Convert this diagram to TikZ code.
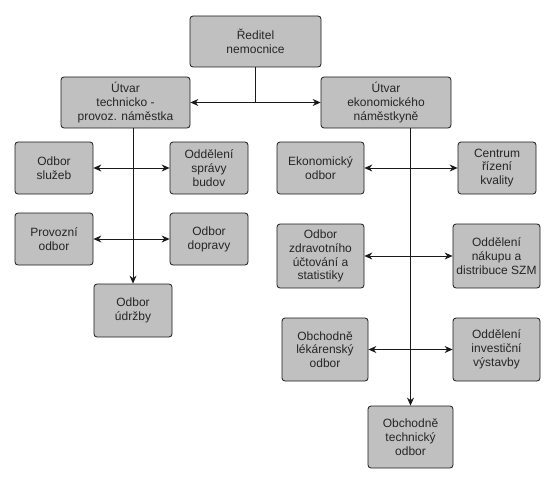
\documentclass[tikz,border=0pt]{standalone}
\usepackage{fontspec}
\setmainfont{Liberation Sans}
\usepackage{tikz}
\usetikzlibrary{arrows.meta}
\definecolor{boxc}{HTML}{C0C0C0}
\definecolor{linec}{HTML}{1A1A1A}
\tikzset{
  unitnode/.style={rectangle, rounded corners=3pt, draw=linec, fill=boxc,
    line width=0.8pt, minimum width=78pt, minimum height=52pt, inner sep=1pt,
    font=\fontsize{12}{13.8}\selectfont, align=center, text=black!85},
  linkedge/.style={draw=linec, line width=0.8pt},
  downedge/.style={-{Stealth[length=8pt,width=7pt]}, draw=linec, line width=0.8pt},
  bothedge/.style={{Stealth[length=8pt,width=7pt]}-{Stealth[length=8pt,width=7pt]}, draw=linec, line width=0.8pt},
}
\begin{document}
\begin{tikzpicture}[x=1pt, y=-1pt]
  \useasboundingbox (0,0) rectangle (556,484);
  % vedeni
  \node[unitnode, minimum width=131pt, minimum height=51pt] (dir) at (255.5,41.5) {Ředitel\\nemocnice};
  \node[unitnode, minimum width=129pt, minimum height=51pt] (tech) at (125.5,102.5) {Útvar\\technicko -\\provoz. náměstka};
  \node[unitnode, minimum width=130pt, minimum height=51pt] (ekon) at (386,102.5) {Útvar\\ekonomického\\náměstkyně};
  % technicko-provozni usek
  \node[unitnode] (sluz) at (54,168) {Odbor\\služeb};
  \node[unitnode] (sprav) at (209,168) {Oddělení\\správy\\budov};
  \node[unitnode] (provoz) at (54,239) {Provozní\\odbor};
  \node[unitnode] (doprav) at (209,239) {Odbor\\dopravy};
  \node[unitnode, minimum height=53pt] (udrz) at (133,310.5) {Odbor\\údržby};
  % ekonomicky usek
  \node[unitnode, minimum width=87pt] (ekodb) at (320.5,168) {Ekonomický\\odbor};
  \node[unitnode] (kval) at (497,168) {Centrum\\řízení\\kvality};
  \node[unitnode, minimum width=87pt, minimum height=64pt] (zdrav) at (320.5,256) {Odbor\\zdravotního\\účtování a\\statistiky};
  \node[unitnode, minimum width=87pt, minimum height=64pt] (nakup) at (496.5,256) {Oddělení\\nákupu a\\distribuce SZM};
  \node[unitnode, minimum width=86pt, minimum height=63pt] (lekar) at (325,349.5) {Obchodně\\lékárenský\\odbor};
  \node[unitnode, minimum width=87pt, minimum height=63pt] (invest) at (496.5,349.5) {Oddělení\\investiční\\výstavby};
  \node[unitnode, minimum width=85pt, minimum height=62pt] (techodb) at (410.5,437) {Obchodně\\technický\\odbor};
  % spoje
  \draw[linkedge] (dir.south) -- (dir.south |- tech);
  \draw[bothedge] (tech) -- (ekon);
  \draw[downedge] (tech.south -| udrz.north) -- (udrz.north);
  \draw[bothedge] (sluz) -- (sprav);
  \draw[bothedge] (provoz) -- (doprav);
  \draw[downedge] (ekon.south -| techodb.north) -- (techodb.north);
  \draw[bothedge] (ekodb) -- (kval);
  \draw[bothedge] (zdrav) -- (nakup);
  \draw[bothedge] (lekar) -- (invest);
\end{tikzpicture}
\end{document}
